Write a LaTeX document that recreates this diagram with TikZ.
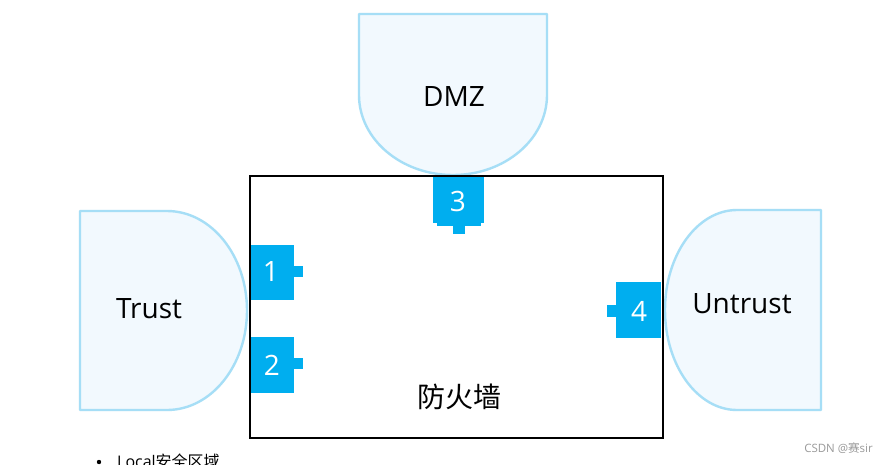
\documentclass[tikz,border=0pt]{standalone}
\usepackage{fontspec}
\setmainfont{Open Sans}
\newfontfamily\cjk{Noto Sans CJK SC}
\definecolor{zoneline}{HTML}{A6DEF6}
\definecolor{zonefill}{HTML}{F2F9FE}
\definecolor{portblue}{HTML}{00AEEF}
\definecolor{wmgray}{HTML}{9A9A9A}
\tikzset{
  zone/.style={draw=zoneline, fill=zonefill, line width=2.4pt, line join=round},
  port/.style={fill=portblue, draw=none},
  portnum/.style={text=white, font=\fontsize{28}{32}\selectfont, inner sep=0pt},
  zonelabel/.style={text=black, font=\fontsize{28}{32}\selectfont, inner sep=0pt},
  fwall/.style={draw=black, line width=2.4pt}
}
\begin{document}
\begin{tikzpicture}[x=1pt,y=-1pt]
\useasboundingbox (0,0) rectangle (887,464);
\fill[white] (0,0) rectangle (887,464);
% zones
\path[zone] (359,14) -- (547,14) -- (547,95)
  .. controls (547,139.2) and (504.9,175) .. (453,175)
  .. controls (401.1,175) and (359,139.2) .. (359,95) -- cycle;
\path[zone] (80,211) -- (167,211)
  .. controls (211.2,211) and (247,255.5) .. (247,310.5)
  .. controls (247,365.5) and (211.2,410) .. (167,410)
  -- (80,410) -- cycle;
\path[zone] (821,210) -- (737,210)
  .. controls (697.2,210) and (665,254.8) .. (665,310)
  .. controls (665,365.2) and (697.2,410) .. (737,410)
  -- (821,410) -- cycle;
% firewall
\draw[fwall] (250,176) rectangle (663,438);
% ports
\fill[port] (251,245) rectangle (294,300);
\fill[port] (293,266) rectangle (303,277);
\fill[port] (251,337) rectangle (294,393);
\fill[port] (293,358) rectangle (303,369);
\fill[port] (433,177) rectangle (484,223);
\fill[port] (437,222) rectangle (481,226);
\fill[port] (453,225) rectangle (465,234);
\fill[port] (616,282) rectangle (661,338);
\fill[port] (607,305) rectangle (617,317);
% labels
\node[portnum] (p1) at (271,272) {1};
\node[portnum] (p2) at (272,365) {2};
\node[portnum] (p3) at (458,201) {3};
\node[portnum] (p4) at (639,311) {4};
\node[zonelabel] (dmz) at (454,97) {DMZ};
\node[zonelabel] (trust) at (149,309) {Trust};
\node[zonelabel] (untrust) at (742,304) {Untrust};
\node[zonelabel, font=\cjk\fontsize{28}{32}\selectfont] (fw) at (459,397) {防火墙};
% bottom partial text
\fill[black] (99,462) circle (2.2);
\node[anchor=base west, inner sep=0pt, font=\fontsize{16}{19}\selectfont] (local) at (117,467) {Local{\cjk 安全区域}};
\node[anchor=base east, inner sep=0pt, text=wmgray, font=\fontsize{11.5}{14}\selectfont] (wm) at (873,452) {CSDN @{\cjk 赛}sir};
\end{tikzpicture}
\end{document}
